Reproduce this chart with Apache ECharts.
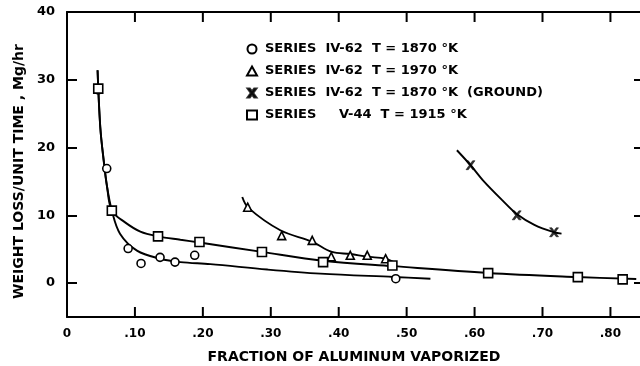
<!DOCTYPE html>
<html><head><meta charset="utf-8">
<script src="https://cdn.jsdelivr.net/npm/echarts@6/dist/echarts.min.js"></script>
<style>html,body{margin:0;padding:0;background:#fff}#c{width:640px;height:366px}</style>
</head><body><div id="c"></div>
<script>
// Measured points
var circlePts = [[0.046,28.5],[0.0585,16.9],[0.090,5.1],[0.109,2.9],[0.137,3.8],[0.159,3.1],[0.188,4.1],[0.484,0.65]];
var trianglePts = [[0.266,11.2],[0.316,7.0],[0.361,6.3],[0.389,3.9],[0.417,4.1],[0.442,4.1],[0.469,3.6]];
var crossPts = [[0.594,17.4],[0.662,10.0],[0.717,7.5]];
var squarePts = [[0.046,28.7],[0.066,10.7],[0.134,6.9],[0.195,6.06],[0.287,4.6],[0.377,3.1],[0.479,2.6],[0.620,1.48],[0.752,0.89],[0.818,0.55]];
// Fitted curves
var circleCurve = [[0.045,31.4],[0.049,23],[0.054,18.1],[0.059,14.2],[0.066,10.7],[0.078,7.3],[0.103,4.8],[0.137,3.6],[0.167,3.1],[0.211,2.8],[0.295,2.0],[0.373,1.4],[0.481,0.9],[0.535,0.65]];
var squareCurve = [[0.045,31.4],[0.049,23],[0.054,18.1],[0.059,14.2],[0.066,10.7],[0.085,9.0],[0.108,7.6],[0.134,6.9],[0.167,6.4],[0.195,6.0],[0.287,4.6],[0.377,3.3],[0.480,2.5],[0.620,1.5],[0.750,0.9],[0.838,0.6]];
var triangleCurve = [[0.258,12.7],[0.267,11.1],[0.314,7.8],[0.361,6.1],[0.390,4.6],[0.417,4.3],[0.442,3.9],[0.469,3.6],[0.484,2.9]];
var crossCurve = [[0.574,19.6],[0.594,17.4],[0.612,15.2],[0.641,12.2],[0.662,10.2],[0.688,8.6],[0.717,7.5],[0.728,7.3]];
var xLabelVals = [0,0.1,0.2,0.3,0.4,0.5,0.6,0.7,0.8];
var xTickVals = [0.1,0.2,0.3,0.4,0.5,0.6,0.7,0.8];
var xMax = 0.845;
var yLabelVals = [0,10,20,30,40];
var yTop = 40, yBottom = -5;
var names = ['c','t','x','s'];
var legendText = {
  c: 'SERIES  IV-62  T = 1870 °K',
  t: 'SERIES  IV-62  T = 1970 °K',
  x: 'SERIES  IV-62  T = 1870 °K  (GROUND)',
  s: 'SERIES     V-44  T = 1915 °K'
};
var F = 'DejaVu Sans';
var crossPath = 'path://M0,0L2.6,0L5,3.2L7.4,0L10,0L6.4,5L10,10L7.4,10L5,6.8L2.6,10L0,10L3.6,5Z';

// frame tick positions on the bottom and top edges (placed by the axis scale)
var bottomTicks = xTickVals.map(function(v){ return [v, yBottom]; });
var topTicks = xTickVals.map(function(v){ return [v, yTop]; });

var chart = echarts.init(document.getElementById('c'), null, {renderer:'canvas'});
function line(data){
  return {type:'line', data:data, smooth:0.35, symbol:'none', silent:true, xAxisIndex:0, yAxisIndex:0,
    lineStyle:{color:'#000', width:1.9}, z:2};
}
function scat(name, data, symbol, size){
  return {type:'scatter', name:name, data:data, symbol:symbol, symbolSize:size, xAxisIndex:0, yAxisIndex:0,
    itemStyle:{color:'#fff', borderColor:'#000', borderWidth:1.6, opacity:1}, z:5};
}
function tickSeries(data, dir){
  // a 2x10 bar sitting on the frame edge and pointing inward
  return {type:'scatter', data:data, symbol:'rect', symbolSize:[2,10], symbolOffset:[0, dir*5],
    silent:true, clip:false, xAxisIndex:0, yAxisIndex:0,
    itemStyle:{color:'#000', borderWidth:0, opacity:1}, z:6};
}
function tickStyle(){ return {color:'#000', width:2}; }
function yTickAxis(pos, len){
  // measured down from the top (40 - value), so ticks fall on 40,30,20,10,0
  return {type:'value', min:0, max:yTop - yBottom, interval:10, inverse:true, position:pos,
    axisLine:{show:false, onZero:false}, axisLabel:{show:false}, splitLine:{show:false},
    axisTick:{show:true, inside:true, length:len, lineStyle:tickStyle()}};
}
chart.setOption({
  animation:false,
  backgroundColor:'#fff',
  grid:{left:67, right:-1, top:12, bottom:49, containLabel:false, outerBoundsMode:'none'},
  legend:{
    orient:'vertical', left:241, top:37, itemGap:8, itemWidth:10, itemHeight:9,
    data:names, selectedMode:false,
    formatter:function(n){return legendText[n];},
    textStyle:{fontFamily:F, fontWeight:'bold', fontSize:13, color:'#000', padding:[0,0,0,3], lineHeight:14}
  },
  xAxis:[
    {type:'value', min:0, max:xMax, position:'bottom',
     name:'FRACTION OF ALUMINUM VAPORIZED', nameLocation:'middle', nameGap:33,
     nameTextStyle:{fontFamily:F, fontWeight:'bold', fontSize:14, color:'#000'},
     axisLine:{show:true, onZero:false, lineStyle:{color:'#000', width:2}},
     axisTick:{show:false},
     axisLabel:{customValues:xLabelVals, margin:11, fontFamily:F, fontWeight:'bold', fontSize:12, color:'#000',
       formatter:function(v){return v===0?'0':v.toFixed(2).replace(/^0/,'');}},
     splitLine:{show:false}},
    {type:'value', min:0, max:xMax, position:'top',
     axisLine:{show:true, onZero:false, lineStyle:{color:'#000', width:2}},
     axisTick:{show:false}, axisLabel:{show:false}, splitLine:{show:false}}
  ],
  yAxis:[
    {type:'value', min:yBottom, max:yTop, position:'left',
     name:'WEIGHT LOSS/UNIT TIME , Mg/hr', nameLocation:'middle', nameGap:38, nameRotate:90,
     nameTextStyle:{fontFamily:F, fontWeight:'bold', fontSize:14, color:'#000', padding:[0,14,0,0]},
     axisLine:{show:true, onZero:false, lineStyle:{color:'#000', width:2}},
     axisTick:{show:false},
     axisLabel:{customValues:yLabelVals, margin:12, fontFamily:F, fontWeight:'bold', fontSize:13, color:'#000'},
     splitLine:{show:false}},
    yTickAxis('left', 10),
    yTickAxis('right', 7)
  ],
  series:[
    line(circleCurve), line(squareCurve), line(triangleCurve), line(crossCurve),
    scat('c', circlePts, 'circle', 8),
    scat('t', trianglePts, 'triangle', 8),
    Object.assign(scat('x', crossPts, crossPath, 9), {itemStyle:{color:'#000', borderColor:'#000', borderWidth:0.6}}),
    scat('s', squarePts, 'rect', 9),
    tickSeries(bottomTicks, -1),
    tickSeries(topTicks, 1)
  ]
});
</script></body></html>
